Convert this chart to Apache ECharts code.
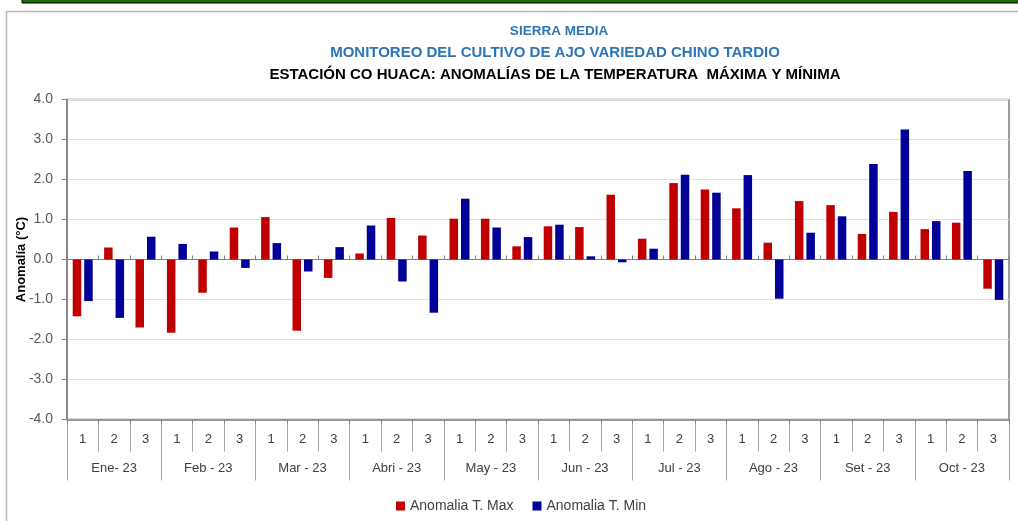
<!DOCTYPE html>
<html>
<head>
<meta charset="utf-8">
<script src="https://cdn.jsdelivr.net/npm/echarts@6/dist/echarts.min.js"></script>
<style>
html,body{margin:0;padding:0;background:#fff;}
#c{width:1018px;height:521px;}
</style>
</head>
<body>
<div id="c"></div>
<script>
const titleLines = ['SIERRA MEDIA', 'MONITOREO DEL CULTIVO DE AJO VARIEDAD CHINO TARDIO', 'ESTACIÓN CO HUACA: ANOMALÍAS DE LA TEMPERATURA  MÁXIMA Y MÍNIMA'];
const decadeLabels = ['1','2','3','1','2','3','1','2','3','1','2','3','1','2','3','1','2','3','1','2','3','1','2','3','1','2','3','1','2','3'];
const monthLabels = ['Ene- 23','Feb - 23','Mar - 23','Abri - 23','May - 23','Jun - 23','Jul - 23','Ago - 23','Set - 23','Oct - 23'];
const seriesNames = ['Anomalia T. Max', 'Anomalia T. Min'];
const tMax = [-1.42, 0.30, -1.70, -1.83, -0.83, 0.80, 1.06, -1.78, -0.46, 0.15, 1.04, 0.60, 1.02, 1.02, 0.33, 0.83, 0.81, 1.62, 0.52, 1.91, 1.75, 1.28, 0.42, 1.46, 1.36, 0.64, 1.19, 0.76, 0.92, -0.73];
const tMin = [-1.04, -1.46, 0.57, 0.39, 0.20, -0.21, 0.41, -0.30, 0.31, 0.85, -0.55, -1.33, 1.52, 0.80, 0.56, 0.87, 0.08, -0.07, 0.27, 2.12, 1.67, 2.11, -0.98, 0.67, 1.08, 2.39, 3.25, 0.96, 2.21, -1.01];

const FONT = '"Liberation Sans", Arial, sans-serif';
const chart = echarts.init(document.getElementById('c'), null, {renderer: 'canvas'});
chart.setOption({
  animation: false,
  backgroundColor: '#fff',
  textStyle: {fontFamily: FONT},
  graphic: [
    {type: 'rect', shape: {x: 22, y: -1, width: 1010, height: 4}, style: {fill: '#236b0a', stroke: '#000', lineWidth: 1}, z: 10},
    {type: 'rect', shape: {x: 6.5, y: 11.5, width: 1030, height: 530}, style: {fill: 'none', stroke: '#b8b8b8', lineWidth: 1.5}, z: 10},
    {type: 'text', x: 559, y: 31, style: {text: titleLines[0], textAlign: 'center', textVerticalAlign: 'middle', fill: '#2E75B6', font: 'bold 13.5px ' + FONT}},
    {type: 'text', x: 555, y: 53, style: {text: titleLines[1], textAlign: 'center', textVerticalAlign: 'middle', fill: '#2E75B6', font: 'bold 15px ' + FONT}},
    {type: 'text', x: 555, y: 75, style: {text: titleLines[2], textAlign: 'center', textVerticalAlign: 'middle', fill: '#000', font: 'bold 15px ' + FONT}}
  ],
  legend: {
    data: seriesNames,
    left: 391, top: 494,
    itemWidth: 9, itemHeight: 9, itemGap: 19,
    icon: 'rect',
    textStyle: {fontSize: 14, color: '#404040', fontFamily: FONT}
  },
  grid: {left: 67, right: 9, top: 99.5, bottom: 101.5, outerBoundsMode: 'none', containLabel: false, show: true, borderColor: '#7f7f7f', borderWidth: 1.5, backgroundColor: 'transparent'},
  xAxis: [
    {
      type: 'category', data: decadeLabels, position: 'bottom',
      axisLine: {onZero: false, lineStyle: {color: '#7f7f7f', width: 1.5}},
      axisTick: {show: true, length: 32, interval: 0, lineStyle: {color: '#a6a6a6'}},
      axisLabel: {interval: 0, margin: 13, fontSize: 13, color: '#404040', fontFamily: FONT},
      splitLine: {show: false}
    },
    {
      type: 'category', data: monthLabels, position: 'bottom',
      axisLine: {show: false, onZero: false},
      axisTick: {show: true, length: 61, interval: 0, lineStyle: {color: '#a6a6a6'}},
      axisLabel: {interval: 0, margin: 42, fontSize: 13, color: '#404040', fontFamily: FONT},
      splitLine: {show: false}
    },
    {
      type: 'category', data: decadeLabels, position: 'bottom',
      axisLine: {show: true, onZero: true, lineStyle: {color: '#7f7f7f', width: 1}},
      axisTick: {show: true, inside: true, length: 4, interval: 0, lineStyle: {color: '#7f7f7f'}},
      axisLabel: {show: false}
    },
    {
      type: 'category', data: decadeLabels, position: 'bottom',
      axisLine: {show: false, onZero: true},
      axisTick: {show: true, inside: false, length: 4, interval: 0, lineStyle: {color: '#7f7f7f'}},
      axisLabel: {show: false}
    }
  ],
  yAxis: {
    type: 'value', min: -4, max: 4, interval: 1,
    name: 'Anomalía (°C)', nameLocation: 'middle', nameGap: 39, nameRotate: 90, nameMoveOverlap: false,
    nameTextStyle: {fontSize: 13, fontWeight: 'bold', color: '#000', fontFamily: FONT},
    axisLine: {show: true, lineStyle: {color: '#7f7f7f', width: 1.5}},
    axisTick: {show: true, length: 5, lineStyle: {color: '#7f7f7f'}},
    axisLabel: {fontSize: 14, color: '#595959', margin: 14, formatter: v => v.toFixed(1), fontFamily: FONT},
    splitLine: {show: true, lineStyle: {color: '#e0e0e0', width: 1}}
  },
  series: [
    {name: seriesNames[0], type: 'bar', xAxisIndex: 0, data: tMax, barWidth: 8.5, barGap: '35%', itemStyle: {color: '#C00000'}},
    {name: seriesNames[1], type: 'bar', xAxisIndex: 0, data: tMin, barWidth: 8.5, barGap: '35%', itemStyle: {color: '#000099'}}
  ]
});
</script>
</body>
</html>
